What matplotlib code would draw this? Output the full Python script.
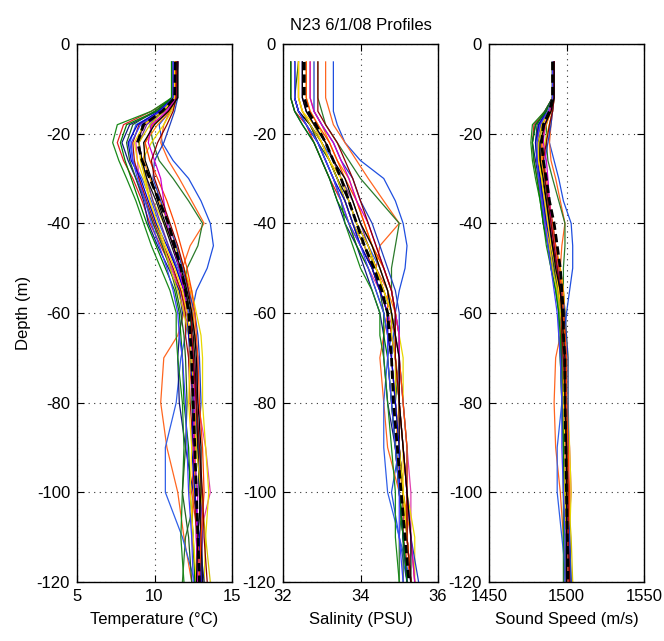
import matplotlib
matplotlib.use("Agg")
import matplotlib.pyplot as plt
import numpy as np

plt.rcParams['font.family'] = ['Liberation Sans', 'DejaVu Sans']
plt.rcParams['axes.unicode_minus'] = False

# Depth levels (m) shared by every cast
depth = np.array([4, 12, 15, 18, 22, 26, 30, 35, 40, 45, 50, 55, 60, 65, 70, 80, 90, 100, 110, 120])

# Temperature (deg C), one row per cast
temp = [
    [11.3, 11.3, 11.0, 10.3, 10.5, 11.2, 12.2, 13.0, 13.6, 13.8, 13.4, 12.7, 12.4, 12.3, 12.5, 12.6, 12.8, 12.9, 13.0, 13.1],
    [11.4, 11.4, 11.0, 10.6, 10.4, 10.9, 11.6, 12.4, 13.2, 12.3, 11.8, 12.0, 11.9, 11.5, 10.6, 10.4, 10.8, 11.5, 11.9, 12.4],
    [11.2, 11.2, 10.5, 9.7, 9.9, 10.3, 11.2, 12.2, 13.1, 12.8, 12.1, 12.0, 12.3, 12.4, 12.5, 12.4, 12.6, 12.7, 12.0, 11.8],
    [11.4, 11.3, 10.4, 8.8, 8.4, 8.6, 9.2, 9.8, 10.3, 10.9, 11.5, 12.0, 12.2, 12.0, 11.7, 11.4, 10.7, 10.7, 11.8, 12.6],
    [11.3, 11.2, 9.8, 8.0, 7.6, 8.0, 8.6, 9.2, 9.7, 10.4, 11.1, 11.7, 12.1, 12.3, 12.2, 12.5, 12.6, 12.4, 12.8, 12.9],
    [11.5, 11.4, 10.7, 9.4, 8.8, 8.9, 9.0, 9.4, 9.9, 10.5, 11.1, 11.6, 11.9, 12.4, 12.6, 12.8, 13.3, 13.6, 12.9, 13.0],
    [11.5, 11.5, 11.1, 10.6, 9.8, 9.2, 9.4, 9.9, 10.6, 11.3, 11.9, 12.4, 12.7, 13.0, 13.1, 13.1, 13.3, 13.5, 13.3, 13.2],
    [11.3, 11.2, 10.2, 8.4, 7.9, 8.3, 8.8, 9.3, 9.6, 10.2, 10.9, 11.6, 11.8, 11.6, 11.5, 11.6, 12.0, 12.5, 12.9, 13.2],
    [11.1, 11.1, 9.8, 7.6, 7.3, 7.7, 8.2, 8.8, 9.3, 9.8, 10.4, 11.0, 11.4, 11.4, 11.5, 11.8, 11.9, 11.8, 11.7, 11.9],
    [11.4, 11.3, 10.6, 9.5, 9.0, 9.2, 9.5, 9.9, 10.4, 10.9, 11.4, 11.9, 12.3, 12.6, 12.8, 12.7, 12.9, 13.0, 13.1, 13.0],
    [11.3, 11.3, 10.4, 9.0, 8.6, 8.7, 9.0, 9.5, 10.0, 10.6, 11.2, 11.7, 12.0, 12.0, 12.2, 12.3, 12.5, 12.6, 12.7, 12.8],
    [11.4, 11.4, 11.0, 10.2, 9.4, 9.3, 9.7, 10.3, 10.9, 11.4, 11.9, 12.3, 12.5, 12.6, 12.4, 12.6, 12.7, 12.5, 12.4, 12.7],
    [11.5, 11.5, 11.3, 11.0, 10.6, 10.0, 9.9, 10.4, 10.9, 11.4, 11.8, 12.2, 12.6, 12.8, 12.9, 13.0, 12.8, 12.9, 13.0, 13.1],
    [11.3, 11.2, 10.0, 8.6, 8.2, 8.4, 8.8, 9.4, 9.9, 10.5, 11.0, 11.4, 11.7, 11.9, 12.0, 12.1, 12.0, 11.8, 12.2, 12.4],
    [11.5, 11.4, 10.6, 9.2, 9.0, 9.2, 9.5, 10.1, 10.6, 11.1, 11.6, 12.0, 12.3, 12.5, 12.6, 12.7, 12.8, 12.9, 13.0, 13.1],
    [11.2, 11.2, 10.6, 9.7, 9.0, 9.1, 9.4, 9.7, 10.1, 10.6, 11.0, 11.5, 11.9, 12.2, 12.4, 12.5, 12.7, 13.0, 13.3, 13.6],
    [11.2, 11.2, 10.3, 8.9, 8.3, 8.5, 9.1, 9.6, 10.1, 10.8, 11.4, 11.9, 12.1, 12.2, 12.3, 12.5, 12.4, 12.6, 12.9, 13.0],
    [11.4, 11.3, 10.9, 9.9, 9.4, 9.7, 10.2, 10.8, 11.3, 11.7, 12.1, 12.4, 12.6, 12.7, 12.8, 12.9, 13.1, 13.2, 13.0, 12.9],
    [11.1, 11.1, 10.1, 8.2, 7.8, 8.1, 8.5, 9.0, 9.5, 10.1, 10.7, 11.3, 11.6, 11.7, 11.8, 11.9, 12.2, 12.3, 12.5, 12.6],
    [11.5, 11.4, 10.8, 9.8, 9.6, 10.0, 10.4, 10.6, 10.8, 11.2, 11.6, 11.9, 12.1, 12.3, 12.5, 12.6, 12.5, 12.8, 12.7, 12.8],
    [11.3, 11.3, 10.5, 9.3, 8.7, 8.9, 9.3, 9.7, 10.2, 10.7, 11.3, 11.8, 12.1, 12.3, 12.3, 12.2, 12.4, 12.3, 12.5, 12.7],
    [11.4, 11.4, 11.2, 10.8, 10.2, 9.8, 10.0, 10.5, 11.0, 11.5, 11.9, 12.2, 12.4, 12.4, 12.5, 12.7, 12.9, 13.1, 13.2, 13.4],
    [11.2, 11.2, 10.4, 9.1, 8.5, 8.6, 8.9, 9.4, 9.8, 10.3, 10.8, 11.2, 11.5, 11.6, 11.8, 12.0, 12.1, 12.2, 12.4, 12.5],
    [11.5, 11.5, 10.9, 10.0, 9.3, 9.4, 9.8, 10.2, 10.7, 11.2, 11.7, 12.1, 12.4, 12.6, 12.7, 12.8, 13.0, 13.0, 12.8, 12.7],
]
temp_mean = [11.35, 11.3, 10.5, 9.3, 8.9, 9.2, 9.7, 10.3, 10.9, 11.3, 11.7, 12.0, 12.2, 12.3, 12.4, 12.5, 12.6, 12.7, 12.8, 12.9]

# Salinity (PSU)
sal = [
    [33.3, 33.3, 33.3, 33.4, 33.6, 34.0, 34.6, 34.9, 35.1, 35.2, 35.15, 35.0, 34.9, 34.85, 34.8, 34.9, 35.0, 34.8, 35.0, 35.2],
    [33.1, 33.1, 33.2, 33.3, 33.6, 33.9, 34.2, 34.6, 35.0, 34.5, 34.4, 34.7, 34.7, 34.6, 34.5, 34.6, 34.7, 35.0, 35.1, 35.3],
    [32.9, 32.9, 33.0, 33.1, 33.4, 33.7, 34.0, 34.5, 35.0, 34.9, 34.8, 34.8, 34.9, 35.0, 35.0, 34.9, 35.0, 35.1, 35.0, 35.0],
    [32.5, 32.5, 32.6, 32.8, 33.0, 33.3, 33.5, 33.7, 33.9, 34.2, 34.5, 34.7, 34.8, 34.8, 34.7, 34.6, 34.6, 34.7, 35.0, 35.3],
    [32.2, 32.2, 32.3, 32.6, 32.8, 33.0, 33.2, 33.5, 33.7, 34.0, 34.3, 34.5, 34.7, 34.8, 34.9, 35.0, 35.0, 35.1, 35.2, 35.3],
    [32.3, 32.3, 32.4, 32.7, 32.9, 33.1, 33.3, 33.5, 33.7, 33.9, 34.2, 34.5, 34.7, 34.9, 35.0, 35.1, 35.2, 35.3, 35.3, 35.4],
    [32.6, 32.6, 32.7, 32.9, 33.1, 33.3, 33.5, 33.8, 34.0, 34.3, 34.6, 34.8, 34.9, 35.0, 35.1, 35.1, 35.2, 35.2, 35.4, 35.4],
    [32.2, 32.2, 32.3, 32.5, 32.8, 33.0, 33.2, 33.4, 33.6, 33.9, 34.1, 34.3, 34.5, 34.6, 34.6, 34.7, 34.9, 35.0, 35.1, 35.2],
    [32.3, 32.3, 32.4, 32.6, 32.9, 33.1, 33.3, 33.5, 33.6, 33.8, 34.0, 34.3, 34.5, 34.5, 34.6, 34.7, 34.8, 34.9, 34.9, 35.0],
    [32.5, 32.5, 32.6, 32.8, 33.1, 33.3, 33.5, 33.8, 34.0, 34.2, 34.4, 34.6, 34.8, 34.9, 35.0, 35.0, 35.1, 35.2, 35.2, 35.3],
    [32.4, 32.4, 32.5, 32.7, 33.0, 33.2, 33.4, 33.6, 33.8, 34.1, 34.3, 34.5, 34.7, 34.7, 34.8, 34.9, 35.0, 35.1, 35.1, 35.2],
    [32.7, 32.7, 32.8, 33.0, 33.2, 33.4, 33.7, 33.9, 34.1, 34.3, 34.5, 34.7, 34.9, 34.9, 34.9, 35.0, 34.9, 35.1, 35.3, 35.4],
    [32.8, 32.8, 32.8, 33.0, 33.3, 33.5, 33.8, 34.0, 34.3, 34.5, 34.7, 34.9, 35.0, 35.0, 35.0, 35.1, 35.2, 35.2, 35.3, 35.5],
    [32.4, 32.3, 32.4, 32.7, 32.9, 33.2, 33.4, 33.6, 33.8, 34.0, 34.3, 34.5, 34.6, 34.7, 34.7, 34.8, 34.9, 35.0, 35.1, 35.1],
    [32.3, 32.3, 32.4, 32.7, 33.0, 33.2, 33.4, 33.7, 33.9, 34.2, 34.4, 34.6, 34.8, 34.9, 34.9, 35.0, 35.0, 35.1, 35.2, 35.3],
    [32.4, 32.4, 32.5, 32.7, 33.0, 33.2, 33.4, 33.6, 33.8, 34.1, 34.4, 34.6, 34.8, 34.8, 34.9, 34.9, 35.0, 35.1, 35.2, 35.3],
    [32.3, 32.3, 32.4, 32.6, 32.9, 33.1, 33.3, 33.6, 33.8, 34.0, 34.3, 34.5, 34.7, 34.7, 34.8, 34.9, 35.0, 35.0, 35.1, 35.2],
    [32.6, 32.6, 32.7, 32.9, 33.2, 33.4, 33.6, 33.9, 34.1, 34.3, 34.6, 34.8, 34.9, 35.0, 35.0, 35.1, 35.2, 35.2, 35.2, 35.3],
    [32.2, 32.2, 32.3, 32.5, 32.8, 33.0, 33.2, 33.4, 33.7, 33.9, 34.2, 34.4, 34.6, 34.6, 34.7, 34.8, 34.9, 35.0, 35.1, 35.2],
    [32.7, 32.7, 32.8, 33.0, 33.3, 33.5, 33.7, 33.9, 34.2, 34.4, 34.6, 34.8, 34.9, 35.0, 35.0, 35.0, 35.1, 35.2, 35.3, 35.4],
    [32.4, 32.4, 32.5, 32.8, 33.0, 33.2, 33.5, 33.7, 33.9, 34.2, 34.4, 34.6, 34.8, 34.9, 34.9, 35.0, 35.1, 35.1, 35.2, 35.3],
    [32.9, 32.9, 32.9, 33.1, 33.4, 33.6, 33.8, 34.0, 34.2, 34.4, 34.6, 34.8, 34.9, 34.9, 34.9, 35.0, 35.1, 35.2, 35.2, 35.3],
    [32.3, 32.3, 32.4, 32.6, 32.9, 33.1, 33.3, 33.5, 33.7, 34.0, 34.2, 34.4, 34.6, 34.7, 34.7, 34.8, 34.9, 35.0, 35.0, 35.1],
    [32.5, 32.5, 32.6, 32.8, 33.1, 33.3, 33.6, 33.8, 34.0, 34.3, 34.5, 34.7, 34.8, 34.9, 35.0, 35.0, 35.1, 35.2, 35.3, 35.3],
]
sal_mean = [32.55, 32.55, 32.65, 32.85, 33.1, 33.3, 33.5, 33.7, 33.9, 34.1, 34.35, 34.55, 34.7, 34.75, 34.8, 34.85, 34.95, 35.05, 35.15, 35.25]

# Sound speed (m/s)
ssp = [
    [1491.5, 1491.5, 1491, 1489, 1489, 1492, 1495, 1498, 1503, 1504, 1504, 1502, 1500, 1499, 1499, 1500, 1501, 1501, 1501, 1502],
    [1492, 1492, 1491, 1490, 1489, 1490, 1493, 1496, 1499, 1497, 1496, 1497, 1497, 1496, 1493, 1492, 1493, 1496, 1498, 1500],
    [1491, 1491, 1489, 1487, 1487, 1488, 1491, 1495, 1499, 1499, 1498, 1498, 1499, 1499, 1499, 1499, 1500, 1500, 1498, 1498],
    [1491.5, 1491, 1488, 1482, 1481, 1482, 1484, 1486, 1488, 1491, 1494, 1497, 1498, 1498, 1497, 1497, 1494, 1494, 1497, 1500],
    [1491, 1491, 1486, 1479, 1478, 1479, 1481, 1484, 1486, 1489, 1493, 1496, 1498, 1499, 1499, 1500, 1500, 1500, 1501, 1501],
    [1492, 1492, 1489, 1484, 1482, 1482, 1482, 1484, 1486, 1489, 1492, 1495, 1497, 1499, 1500, 1500, 1502, 1503, 1501, 1501],
    [1492, 1492, 1491, 1489, 1486, 1484, 1485, 1487, 1490, 1493, 1496, 1498, 1499, 1500, 1501, 1501, 1502, 1503, 1502, 1502],
    [1491, 1491, 1487, 1480, 1478, 1480, 1482, 1484, 1485, 1488, 1491, 1495, 1497, 1497, 1497, 1497, 1499, 1501, 1502, 1503],
    [1491, 1491, 1486, 1478, 1477, 1478, 1480, 1483, 1485, 1487, 1490, 1493, 1495, 1495, 1496, 1497, 1498, 1498, 1498, 1499],
    [1492, 1491, 1488, 1484, 1482, 1483, 1484, 1486, 1488, 1491, 1493, 1496, 1498, 1499, 1500, 1500, 1501, 1501, 1502, 1502],
    [1491, 1491, 1488, 1482, 1481, 1481, 1483, 1485, 1487, 1490, 1493, 1495, 1497, 1497, 1498, 1499, 1500, 1500, 1501, 1501],
    [1492, 1492, 1490, 1487, 1484, 1484, 1486, 1488, 1491, 1493, 1496, 1498, 1499, 1499, 1499, 1500, 1500, 1500, 1500, 1501],
    [1492, 1492, 1491, 1490, 1488, 1486, 1486, 1488, 1491, 1493, 1495, 1497, 1499, 1500, 1501, 1501, 1501, 1501, 1502, 1503],
    [1491, 1491, 1486, 1481, 1480, 1481, 1482, 1485, 1487, 1490, 1492, 1494, 1496, 1497, 1497, 1498, 1498, 1498, 1499, 1500],
    [1492, 1491, 1488, 1483, 1482, 1483, 1484, 1487, 1489, 1491, 1494, 1496, 1498, 1499, 1499, 1500, 1500, 1501, 1501, 1502],
    [1491, 1491, 1488, 1485, 1482, 1482, 1484, 1485, 1487, 1489, 1491, 1494, 1496, 1498, 1499, 1499, 1500, 1501, 1503, 1504],
    [1491, 1491, 1487, 1482, 1480, 1481, 1483, 1485, 1487, 1490, 1493, 1496, 1497, 1498, 1498, 1499, 1499, 1500, 1501, 1501],
    [1492, 1491, 1490, 1486, 1484, 1485, 1487, 1489, 1491, 1493, 1495, 1497, 1498, 1499, 1500, 1500, 1501, 1502, 1501, 1501],
    [1491, 1491, 1487, 1480, 1478, 1479, 1481, 1483, 1485, 1488, 1490, 1493, 1495, 1496, 1496, 1497, 1498, 1499, 1500, 1500],
    [1492, 1491, 1489, 1486, 1485, 1487, 1488, 1489, 1490, 1492, 1494, 1496, 1497, 1498, 1499, 1499, 1499, 1500, 1500, 1500],
    [1491, 1491, 1488, 1484, 1481, 1482, 1484, 1486, 1488, 1490, 1493, 1495, 1497, 1498, 1498, 1498, 1499, 1499, 1500, 1500],
    [1492, 1492, 1491, 1489, 1487, 1485, 1486, 1488, 1490, 1492, 1494, 1496, 1497, 1497, 1498, 1499, 1500, 1501, 1501, 1502],
    [1491, 1491, 1488, 1483, 1481, 1481, 1482, 1484, 1486, 1488, 1490, 1492, 1494, 1495, 1496, 1497, 1497, 1498, 1499, 1499],
    [1492, 1492, 1490, 1486, 1483, 1483, 1485, 1487, 1489, 1491, 1493, 1496, 1497, 1498, 1499, 1499, 1500, 1500, 1500, 1500],
]
ssp_mean = [1491, 1491, 1489, 1485, 1484, 1485, 1487, 1489, 1492, 1494, 1496, 1497, 1498, 1498, 1499, 1499, 1499.5, 1500, 1500.5, 1501]

cast_colors = ['#1f4fe0', '#ff6620', '#2a7a2a', '#3060e8', '#e02020', '#e040b0', '#e8d800', '#101880',
               '#1a8a1a', '#7030a0', '#a01010', '#ff8c00', '#2040c0', '#206020', '#111111', '#d4c400',
               '#0000cc', '#ff4500', '#008000', '#cc00cc', '#ffd700', '#8b0000', '#4040ff', '#000000']

panels = [
    (temp, temp_mean, [5, 10, 15], 'Temperature (\u00b0C)'),
    (sal, sal_mean, [32, 34, 36], 'Salinity (PSU)'),
    (ssp, ssp_mean, [1450, 1500, 1550], 'Sound Speed (m/s)'),
]
lefts = [77, 283, 489]

fig = plt.figure(figsize=(6.64, 6.41), dpi=100)
W, H = 664, 641
axes = []
for (prof, mean, xt, xlab), left in zip(panels, lefts):
    ax = fig.add_axes([left / W, 1 - 582 / H, 155 / W, 538 / H])
    for p, c in zip(prof, cast_colors):
        ax.plot(p, -depth, color=c, lw=0.9)
    ax.plot(mean, -depth, color='k', lw=2.0, ls=(0, (3, 1.5)))
    ax.set_xlim(xt[0], xt[-1])
    ax.set_ylim(-120, 0)
    ax.set_xticks(xt)
    ax.set_yticks([0, -20, -40, -60, -80, -100, -120])
    ax.grid(True, ls=(0, (1, 4)), color='#333333', lw=0.8)
    ax.tick_params(direction='in', length=5, top=True, right=True, labelsize=12, pad=5)
    ax.set_xlabel(xlab, fontsize=12, labelpad=6)
    for s in ax.spines.values():
        s.set_linewidth(1.0)
    axes.append(ax)

axes[0].set_ylabel('Depth (m)', fontsize=12, labelpad=4)
axes[1].set_title('N23 6/1/08 Profiles', fontsize=12, pad=10)

fig.savefig('out.png', dpi=100)
